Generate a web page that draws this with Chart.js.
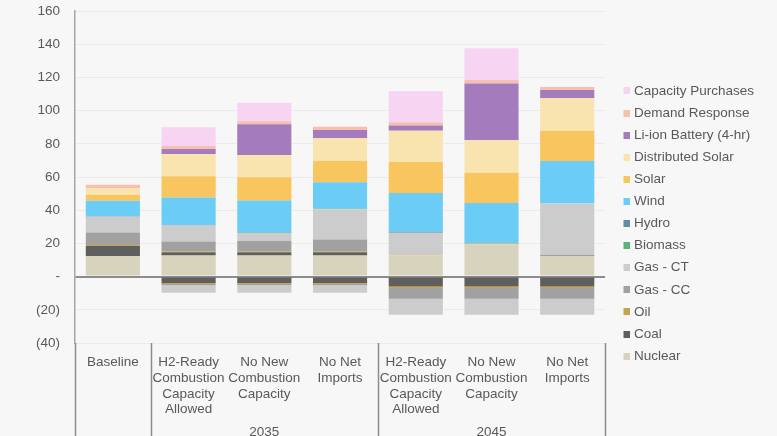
<!DOCTYPE html>
<html>
<head>
<meta charset="utf-8">
<script src="https://cdn.jsdelivr.net/npm/chart.js@4/dist/chart.umd.min.js"></script>
<style>
  html, body { margin: 0; padding: 0; background: #f7f7f7; }
  #wrap { width: 777px; height: 436px; position: relative; }
</style>
</head>
<body>
<div id="wrap"><canvas id="c" width="777" height="436"></canvas></div>
<script>
// Scenario categories (multi-line tick labels)
const categories = [
  ['Baseline'],
  ['H2-Ready', 'Combustion', 'Capacity', 'Allowed'],
  ['No New', 'Combustion', 'Capacity'],
  ['No Net', 'Imports'],
  ['H2-Ready', 'Combustion', 'Capacity', 'Allowed'],
  ['No New', 'Combustion', 'Capacity'],
  ['No Net', 'Imports']
];
// Year groups under the scenarios
const groupLabels = ['', '2035', '2045'];
const groupSizes = [1, 3, 3];

// Capacity by resource (GW)
const nuclear           = [12.4, 12.7, 12.7, 12.7, 12.8, 19.5, 12.4];
const coal              = [6.0, 2.0, 2.0, 2.0, 0, 0, 0];
const oil               = [0.6, 0.5, 0.5, 0.5, 0.3, 0.5, 0];
const gasCC             = [7.6, 5.9, 6.2, 7.2, 0, 0, 0.8];
const gasCT             = [9.6, 10.0, 4.8, 18.1, 13.3, 0, 30.9];
const biomass           = [0, 0, 0.4, 0.4, 0, 0, 0];
const hydro             = [0.3, 0, 0, 0, 0.6, 0, 0];
const wind              = [9.2, 16.5, 19.3, 16.0, 23.3, 24.3, 25.5];
const solar             = [3.6, 12.9, 13.9, 12.7, 18.7, 18.3, 18.2];
const distributedSolar  = [4.0, 13.4, 13.5, 13.7, 18.8, 19.6, 19.6];
const liIonBattery      = [0, 3.0, 18.5, 5.0, 3.2, 34.2, 5.0];
const demandResponse    = [2.0, 1.8, 1.8, 2.0, 2.0, 2.0, 1.8];
const capacityPurchases = [0, 11.3, 11.2, 0, 18.6, 19.1, 0];

// Retirements (negative)
const coalRetired  = [0, -3.8, -3.8, -3.8, -6.0, -6.0, -6.0];
const oilRetired   = [0, -0.6, -0.6, -0.6, -0.8, -0.8, -0.8];
const gasCCRetired = [0, -0.8, -0.8, -0.8, -6.6, -6.6, -6.6];
const gasCTRetired = [0, -4.6, -4.6, -4.6, -9.6, -9.6, -9.6];

// Axis ticks
const yMin = -40, yMax = 160, yStep = 20;

const colors = {
  nuclear: '#d8d3bc', coal: '#5f5f5f', oil: '#c9a44e', gasCC: '#a1a1a1', gasCT: '#cccccc',
  biomass: '#5cb37a', hydro: '#5f8ea6', wind: '#6bccf5', solar: '#f8c55f',
  distSolar: '#f9e4b0', liIon: '#a47bbd', dr: '#f8bfae', cp: '#f7d5f2'
};

const FONT = '"Liberation Sans", Arial, sans-serif';
const TEXT = '#595959';

function ds(label, data, color, retired) {
  return { label, data, backgroundColor: color, borderWidth: 0, retired: !!retired, stack: 's' };
}

const datasets = [
  ds('Nuclear', nuclear, colors.nuclear),
  ds('Coal', coal, colors.coal),
  ds('Oil', oil, colors.oil),
  ds('Gas - CC', gasCC, colors.gasCC),
  ds('Gas - CT', gasCT, colors.gasCT),
  ds('Biomass', biomass, colors.biomass),
  ds('Hydro', hydro, colors.hydro),
  ds('Wind', wind, colors.wind),
  ds('Solar', solar, colors.solar),
  ds('Distributed Solar', distributedSolar, colors.distSolar),
  ds('Li-ion Battery (4-hr)', liIonBattery, colors.liIon),
  ds('Demand Response', demandResponse, colors.dr),
  ds('Capacity Purchases', capacityPurchases, colors.cp),
  ds('Coal retired', coalRetired, colors.coal, true),
  ds('Oil retired', oilRetired, colors.oil, true),
  ds('Gas - CC retired', gasCCRetired, colors.gasCC, true),
  ds('Gas - CT retired', gasCTRetired, colors.gasCT, true)
];

// Small legend swatch: a 7px square sitting at the right of a 20px strip
function swatch(color) {
  const cv = document.createElement('canvas');
  cv.width = 20; cv.height = 7;
  const g = cv.getContext('2d');
  g.fillStyle = color;
  g.fillRect(13, 0, 7, 7);
  return cv;
}

// Draws the year-group separators and labels beneath the category axis
const groupAxis = {
  id: 'groupAxis',
  afterDraw(chart) {
    const { ctx, chartArea, scales: { x } } = chart;
    const step = x.getPixelForValue(1) - x.getPixelForValue(0);
    const edge = i => x.getPixelForValue(i) - step / 2;
    ctx.save();
    ctx.strokeStyle = '#8c8c8c';
    ctx.lineWidth = 1.5;
    let idx = 0;
    const edges = [0];
    groupSizes.forEach(n => { idx += n; edges.push(idx); });
    edges.forEach(i => {
      const px = Math.round(edge(i)) + 0.5;
      ctx.beginPath();
      ctx.moveTo(px, chartArea.bottom);
      ctx.lineTo(px, chart.height);
      ctx.stroke();
    });
    ctx.fillStyle = TEXT;
    ctx.font = '13.5px ' + FONT;
    ctx.textAlign = 'center';
    ctx.textBaseline = 'middle';
    idx = 0;
    groupLabels.forEach((lab, g) => {
      const mid = (edge(idx) + edge(idx + groupSizes[g])) / 2;
      ctx.fillText(lab, mid, chartArea.bottom + 89);
      idx += groupSizes[g];
    });
    ctx.restore();
  }
};

Chart.defaults.font.family = FONT;
Chart.defaults.font.size = 13.5;
Chart.defaults.color = TEXT;

new Chart(document.getElementById('c'), {
  type: 'bar',
  data: { labels: categories, datasets },
  options: {
    responsive: false,
    animation: false,
    layout: { padding: { top: 11, left: 36, right: 13, bottom: 0 } },
    datasets: { bar: { categoryPercentage: 1, barPercentage: 0.715 } },
    plugins: {
      tooltip: { enabled: false },
      legend: {
        position: 'right',
        reverse: true,
        labels: {
          usePointStyle: true,
          boxWidth: 13.5,
          boxHeight: 13.5,
          padding: 8.6,
          color: TEXT,
          font: { size: 13.5 },
          filter: (item, data) => !data.datasets[item.datasetIndex].retired,
          generateLabels: chart => Chart.defaults.plugins.legend.labels.generateLabels(chart)
            .map(item => Object.assign(item, { pointStyle: swatch(item.fillStyle) }))
        }
      }
    },
    scales: {
      x: {
        stacked: true,
        grid: { display: false },
        border: { display: false },
        ticks: {
          padding: 3.7,
          maxRotation: 0,
          autoSkip: false,
          color: TEXT,
          font: { size: 13.5, lineHeight: 1.16 }
        },
        afterFit: s => { s.height = 93; }
      },
      y: {
        stacked: true,
        min: yMin,
        max: yMax,
        ticks: {
          stepSize: yStep,
          padding: 0,
          color: TEXT,
          callback: v => v === 0 ? '-' : (v < 0 ? '(' + Math.abs(v) + ')' : String(v))
        },
        grid: {
          drawTicks: true,
          tickLength: 15,
          tickColor: 'rgba(0,0,0,0)',
          color: c => c.tick && c.tick.value === 0 ? '#8c8c8c' : '#ebebeb',
          lineWidth: c => c.tick && c.tick.value === 0 ? 2 : 1
        },
        border: { display: true, color: '#a6a6a6', width: 1.5 }
      }
    }
  },
  plugins: [groupAxis]
});
</script>
</body>
</html>
